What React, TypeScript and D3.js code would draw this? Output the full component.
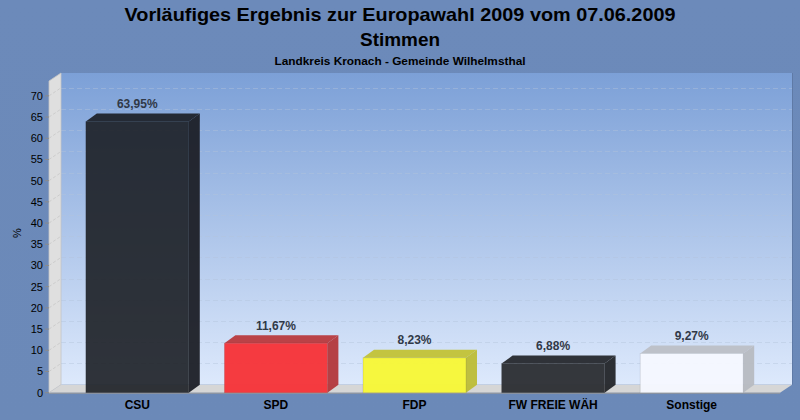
import * as d3 from 'd3';

const parties = ['CSU', 'SPD', 'FDP', 'FW FREIE WÄH', 'Sonstige'];
const shares = [63.95, 11.67, 8.23, 6.88, 9.27];
const shareLabels = ['63,95%', '11,67%', '8,23%', '6,88%', '9,27%'];
const yTicks = [0, 5, 10, 15, 20, 25, 30, 35, 40, 45, 50, 55, 60, 65, 70];

// front, top, side colours per party
const barColors = [
    { front: '#1c1f25', top: '#1f232b', side: '#1c1f26', alpha: 0.9 },
    { front: '#f6353a', top: '#b8393d', side: '#b3373b', alpha: 0.97 },
    { front: '#f7f738', top: '#c2c236', side: '#bdbd36', alpha: 0.97 },
    { front: '#2b2d32', top: '#26282d', side: '#232529', alpha: 0.95 },
    { front: '#f6f8ff', top: '#bcbfc6', side: '#b7bac1', alpha: 0.95 },
];

const W = 800;
const H = 420;
const font = '"Liberation Sans", Arial, sans-serif';

// 3d depth of walls and bars
const dx = 12;
const dy = 8;
const barDx = 11;

const wallLeft = 49;
const wallRight = 780;
const floorY = 392.7;
const wallTopY = 81;

export default function App() {
    const y = d3.scaleLinear().domain([0, 73.5]).range([floorY, wallTopY]);
    const x = d3
        .scaleBand<string>()
        .domain(parties)
        .range([68, 761])
        .paddingInner(0.257)
        .paddingOuter(0.1285);

    return (
        <svg width={W} height={H} style={{ position: 'absolute', left: 0, top: 0 }} fontFamily={font}>
            <defs>
                <linearGradient id="wall" x1="0" y1="0" x2="0" y2="1">
                    <stop offset="0" stopColor="#7ca0d7" />
                    <stop offset="1" stopColor="#dde9fc" />
                </linearGradient>
                <linearGradient id="page" x1="0" y1="0" x2="0" y2="1">
                    <stop offset="0" stopColor="#6c8aba" />
                    <stop offset="1" stopColor="#6b89b8" />
                </linearGradient>
            </defs>
            <rect width={W} height={H} fill="url(#page)" />

            {/* back wall */}
            <rect
                x={wallLeft + dx}
                y={wallTopY - dy}
                width={wallRight - wallLeft}
                height={floorY - wallTopY}
                fill="url(#wall)"
            />
            <line
                x1={wallRight + dx + 0.5}
                x2={wallRight + dx + 0.5}
                y1={wallTopY - dy}
                y2={floorY - dy}
                stroke="#5f7aa6"
                strokeWidth={1}
            />

            {/* left side wall */}
            <path
                d={`M${wallLeft},${wallTopY} L${wallLeft + dx},${wallTopY - dy} L${wallLeft + dx},${floorY - dy} L${wallLeft},${floorY} Z`}
                fill="#dfdfdf"
                stroke="#c4c4c4"
                strokeWidth={0.8}
            />

            {/* floor */}
            <path
                d={`M${wallLeft},${floorY} L${wallLeft + dx},${floorY - dy} L${wallRight + dx},${floorY - dy} L${wallRight},${floorY} Z`}
                fill="#d6d6d6"
            />
            <line x1={wallLeft} x2={wallRight} y1={floorY + 0.5} y2={floorY + 0.5} stroke="#9a9a9a" />

            {/* grid */}
            {yTicks.filter((t) => t > 0).map((t) => (
                <g key={t}>
                    <line
                        x1={wallLeft + dx}
                        x2={wallRight + dx}
                        y1={Math.round(y(t) - dy) + 0.5}
                        y2={Math.round(y(t) - dy) + 0.5}
                        stroke="#b4c3da"
                        strokeOpacity={0.55}
                        strokeWidth={0.8}
                        strokeDasharray="5,3"
                    />
                    <line
                        x1={wallLeft}
                        x2={wallLeft + dx}
                        y1={y(t)}
                        y2={y(t) - dy}
                        stroke="#c6c6c6"
                        strokeWidth={0.8}
                        strokeDasharray="3,2"
                    />
                </g>
            ))}

            {/* y axis */}
            {yTicks.map((t) => (
                <g key={t}>
                    <line x1={wallLeft - 4} x2={wallLeft} y1={y(t)} y2={y(t)} stroke="#8a8a8a" />
                    <text x={wallLeft - 6} y={y(t)} dy="0.35em" textAnchor="end" fontSize={11} fill="#000">
                        {t}
                    </text>
                </g>
            ))}
            <text transform="translate(21,233) rotate(-90)" textAnchor="middle" fontSize={11} fill="#000">
                %
            </text>

            {/* bars */}
            {parties.map((p, i) => {
                const x0 = x(p)!;
                const x1 = x0 + x.bandwidth();
                const yt = y(shares[i]);
                const c = barColors[i];
                return (
                    <g key={p}>
                        <path
                            d={`M${x0},${yt} L${x0 + barDx},${yt - dy} L${x1 + barDx},${yt - dy} L${x1},${yt} Z`}
                            fill={c.top}
                            fillOpacity={0.95}
                        />
                        <path
                            d={`M${x1},${yt} L${x1 + barDx},${yt - dy} L${x1 + barDx},${floorY - dy} L${x1},${floorY} Z`}
                            fill={c.side}
                            fillOpacity={0.95}
                        />
                        <rect
                            x={x0}
                            y={yt}
                            width={x1 - x0}
                            height={floorY - yt}
                            fill={c.front}
                            fillOpacity={c.alpha}
                            stroke="#000"
                            strokeOpacity={0.12}
                            strokeWidth={0.8}
                        />
                        <text
                            x={x0 + x.bandwidth() / 2}
                            y={yt - dy - 5.5}
                            textAnchor="middle"
                            fontSize={12}
                            fontWeight="bold"
                            fill="#313947"
                        >
                            {shareLabels[i]}
                        </text>
                        <text
                            x={x0 + x.bandwidth() / 2}
                            y={408.5}
                            textAnchor="middle"
                            fontSize={12}
                            fontWeight="bold"
                            fill="#000"
                        >
                            {p}
                        </text>
                    </g>
                );
            })}

            {/* titles */}
            <text x={400} y={20.7} textAnchor="middle" fontSize={19} fontWeight="bold" textLength={551} lengthAdjust="spacingAndGlyphs">
                Vorläufiges Ergebnis zur Europawahl 2009 vom 07.06.2009
            </text>
            <text x={400} y={45.5} textAnchor="middle" fontSize={19} fontWeight="bold" textLength={80} lengthAdjust="spacingAndGlyphs">
                Stimmen
            </text>
            <text x={400} y={65} textAnchor="middle" fontSize={11} fontWeight="bold" textLength={251} lengthAdjust="spacingAndGlyphs">
                Landkreis Kronach - Gemeinde Wilhelmsthal
            </text>
        </svg>
    );
}
